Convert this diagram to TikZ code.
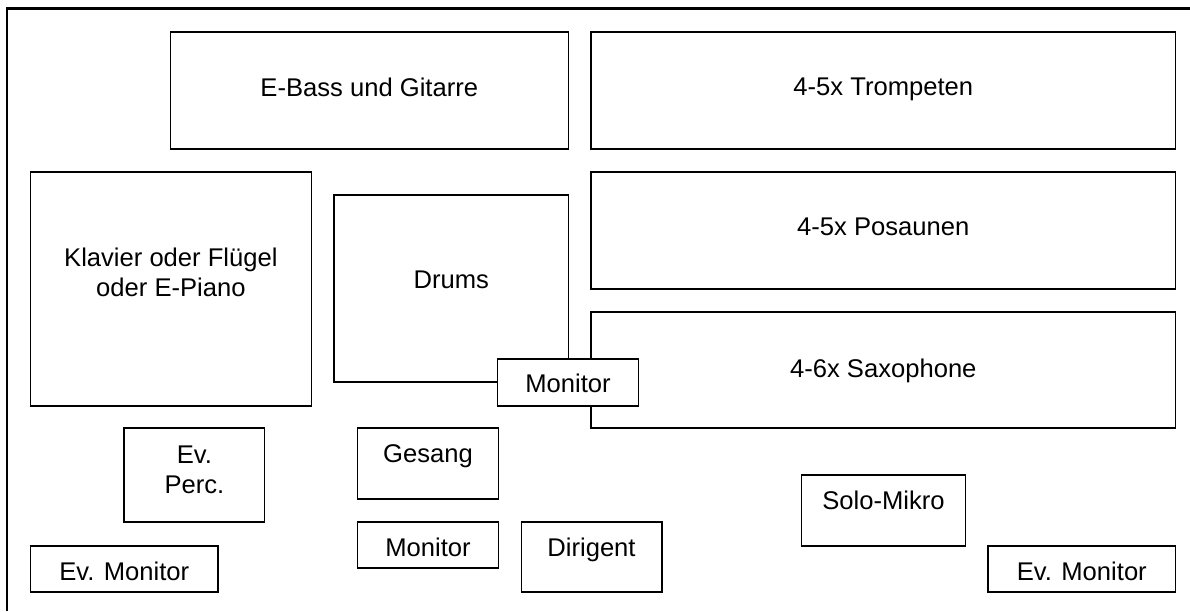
\documentclass[tikz,border=0pt]{standalone}
\usepackage{fontspec}
\setmainfont{Liberation Sans}
\usepackage{tikz}

\tikzset{
  box/.style={shape=rectangle, draw=black, line width=1.3pt, fill=white, inner sep=0pt},
  lbl/.style={font=\fontsize{25.6}{29.5}\selectfont, align=center, inner sep=0pt},
  frame/.style={draw=black, line width=2.5pt}
}

\begin{document}
\begin{tikzpicture}[x=1pt, y=-1pt]
        \useasboundingbox (0,0) rectangle (1190,611);

        % stage edge
        \coordinate (FL) at (7,611);
        \coordinate (TL) at (7,8.3);
        \coordinate (TR) at (1190,8.3);
        \draw[frame] (FL) -- (TL) -- (TR);

        % back row
        \node[box, minimum width=398, minimum height=117] (bass) at (369.3,90.5) {};
        \node[box, minimum width=584.4, minimum height=117] (trp) at (883.3,90.5) {};
        \node[lbl] at (369.3,87.5) {E-Bass und Gitarre};
        \node[lbl] at (883.3,89) {4-5x Trompeten};

        % rhythm group and winds
        \node[box, minimum width=280.5, minimum height=234] (klav) at (170.9,289) {};
        \node[box, minimum width=234.2, minimum height=187] (drums) at (451.2,288.5) {};
        \node[box, minimum width=584.4, minimum height=117] (pos) at (883.3,230.5) {};
        \node[box, minimum width=584.4, minimum height=116] (sax) at (883.3,370) {};
        \node[lbl] at (170.9,272.5) {Klavier oder Flügel\\oder E-Piano};
        \node[lbl] at (451.2,279.5) {Drums};
        \node[lbl] at (883.3,227) {4-5x Posaunen};
        \node[lbl] at (883.3,370.5) {4-6x Saxophone};

        % monitor in front of drums
        \node[box, minimum width=141.1, minimum height=47] (mon) at (568,382.5) {};
        \node[lbl] at (568,383.5) {Monitor};

        % front
        \node[box, minimum width=140.8, minimum height=94] (perc) at (194.4,475) {};
        \node[box, minimum width=140.4, minimum height=71] (ges) at (428,463.5) {};
        \node[box, minimum width=140.4, minimum height=46] (monfront) at (428,545) {};
        \node[box, minimum width=140.7, minimum height=70] (dir) at (591.5,557) {};
        \node[box, minimum width=164.6, minimum height=71] (solo) at (883.5,510.5) {};
        \node[box, minimum width=187.5, minimum height=46] (evmonL) at (124.3,569) {};
        \node[box, minimum width=187.5, minimum height=46] (evmonR) at (1081.8,569) {};
        \node[lbl] at (194.4,470) {Ev.\\Perc.};
        \node[lbl] at (428,456) {Gesang};
        \node[lbl] at (428,547.5) {Monitor};
        \node[lbl] at (591.5,550) {Dirigent};
        \node[lbl] at (883.5,500) {Solo-Mikro};
        \node[lbl] at (124.3,571) {Ev. Monitor};
        \node[lbl] at (1081.8,571) {Ev. Monitor};
\end{tikzpicture}
\end{document}
